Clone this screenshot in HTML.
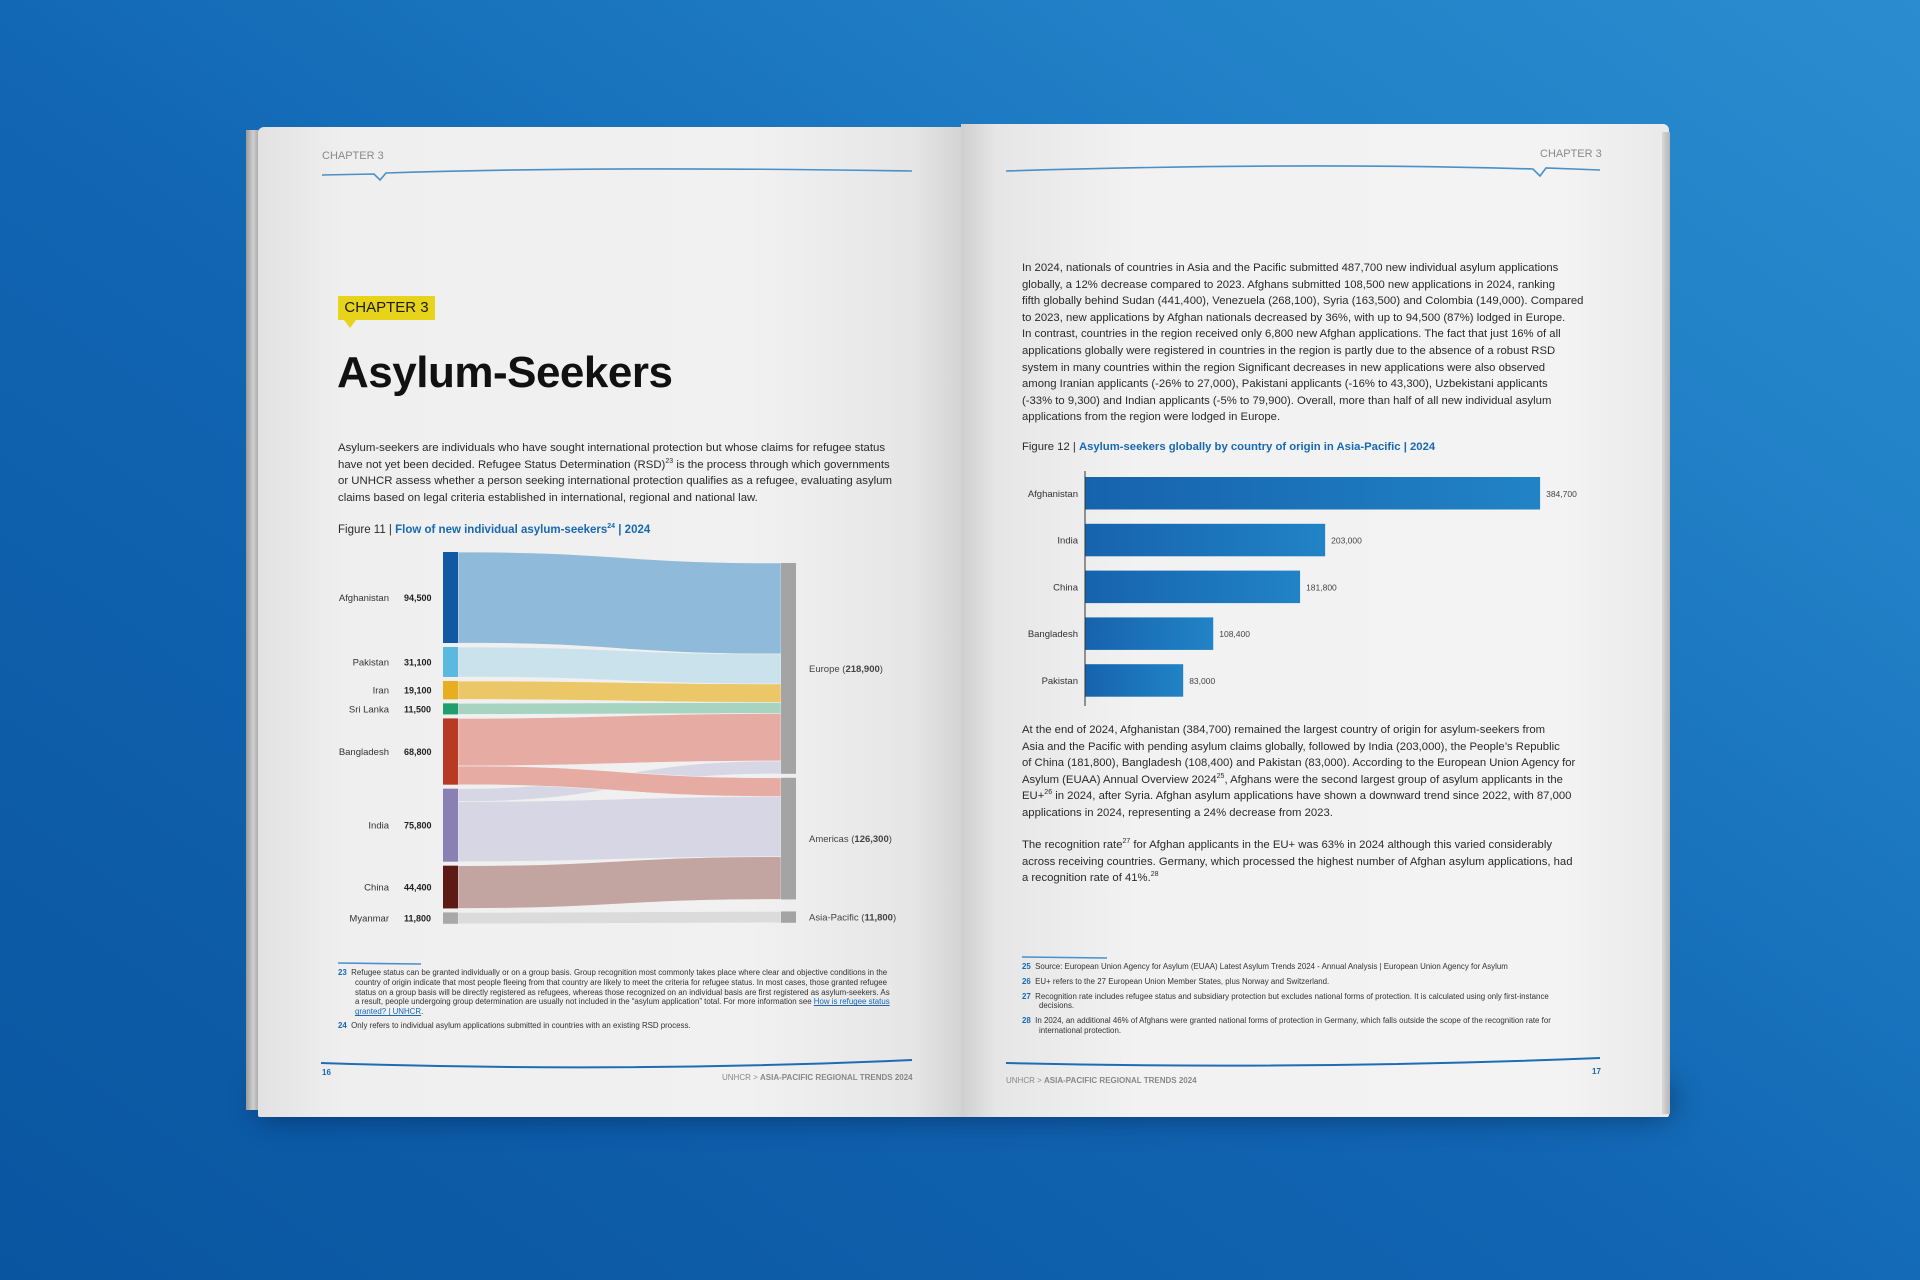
<!DOCTYPE html>
<html><head><meta charset="utf-8">
<style>
html,body{margin:0;padding:0;}
body{width:1920px;height:1280px;position:relative;overflow:hidden;font-family:"Liberation Sans",sans-serif;
background:linear-gradient(35deg,#0a55a0 0%,#1165b2 45%,#2282c8 80%,#2b8ccf 100%);}
.abs{position:absolute;white-space:nowrap;}
.p{color:#2a2a2a;}
.blue{color:#1769b3;}
</style></head>
<body>
<div class="abs" style="left:255px;top:1080px;width:1420px;height:40px;background:rgba(0,20,60,0.45);filter:blur(14px);border-radius:30px;"></div>
<div class="abs" style="left:246px;top:130px;width:18px;height:980px;background:linear-gradient(90deg,#9a9a9a,#cfcfcf 40%,#a9a9a9 70%,#d5d5d5);"></div>
<div class="abs" style="left:258px;top:127px;width:703px;height:990px;background:linear-gradient(90deg,#e2e2e2 0%,#efefef 12%,#f1f1f1 70%,#e6e6e6 93%,#d4d4d4 100%);border-radius:6px 0 0 2px;"></div>
<div class="abs" style="left:961px;top:124px;width:708px;height:993px;background:linear-gradient(90deg,#cfcfcf 0%,#e6e6e6 5%,#f2f2f2 25%,#f3f3f3 85%,#e9e9e9 100%);border-radius:0 6px 2px 0;"></div>
<div class="abs" style="left:1662px;top:132px;width:8px;height:982px;background:linear-gradient(90deg,#d8d8d8,#b5b5b5);"></div>

<svg class="abs" style="left:0;top:0" width="1920" height="1280">
 <g fill="none" stroke="#4a90c8" stroke-width="1.6">
  <path d="M322 175 L374 174 L380 180 L386 173 Q600 166 912 171"/>
  <path d="M1006 171 Q1300 162 1533 169 L1540 176 L1546 168 L1600 170"/>
  <path stroke="#1d6db5" stroke-width="2" d="M321 1063 Q620 1073 912 1060"/>
  <path stroke="#1d6db5" stroke-width="2" d="M1006 1063 Q1300 1070 1600 1058"/>
  <path d="M338 963 L421 964"/>
  <path d="M1022 957 L1107 958"/>
 </g>
</svg>

<div class="abs" style="left:322px;top:150px;font-size:11px;color:#8a8a8a;">CHAPTER 3</div>
<div class="abs" style="left:1540px;top:148px;font-size:11px;color:#8a8a8a;">CHAPTER 3</div>

<div class="abs" style="left:338px;top:296px;width:97px;height:24px;background:#e6d31a;font-size:15px;color:#1a1a1a;line-height:24px;text-align:center;">CHAPTER 3</div>
<div class="abs" style="left:344px;top:320px;width:0;height:0;border-left:6px solid transparent;border-right:6px solid transparent;border-top:8px solid #e6d31a;"></div>
<div class="abs" style="left:337px;top:348px;font-size:44px;font-weight:bold;color:#111;letter-spacing:-0.5px;">Asylum-Seekers</div>

<div class="abs p" style="left:338px;top:440px;font-size:11.4px;line-height:16.5px;">Asylum-seekers are individuals who have sought international protection but whose claims for refugee status<br>have not yet been decided. Refugee Status Determination (RSD)<sup style="font-size:7px;line-height:0">23</sup> is the process through which governments<br>or UNHCR assess whether a person seeking international protection qualifies as a refugee, evaluating asylum<br>claims based on legal criteria established in international, regional and national law.</div>

<div class="abs p" style="left:338px;top:524px;font-size:11.5px;">Figure 11 | <span class="blue" style="font-weight:bold">Flow of new individual asylum-seekers<sup style="font-size:7px;line-height:0">24</sup> | 2024</span></div>

<svg id="sankey" class="abs" style="left:0;top:0" width="1920" height="1280"></svg>

<div class="abs p" style="left:338px;top:968px;font-size:7.9px;line-height:9.8px;color:#333;">
<div><b class="blue">23</b>&nbsp; Refugee status can be granted individually or on a group basis. Group recognition most commonly takes place where clear and objective conditions in the</div>
<div style="padding-left:17px">country of origin indicate that most people fleeing from that country are likely to meet the criteria for refugee status. In most cases, those granted refugee<br>status on a group basis will be directly registered as refugees, whereas those recognized on an individual basis are first registered as asylum-seekers. As<br>a result, people undergoing group determination are usually not included in the “asylum application” total. For more information see <u class="blue">How is refugee status</u><br><u class="blue">granted? | UNHCR</u>.</div>
<div style="margin-top:4px"><b class="blue">24</b>&nbsp; Only refers to individual asylum applications submitted in countries with an existing RSD process.</div>
</div>

<div class="abs blue" style="left:322px;top:1068px;font-size:8px;font-weight:bold;">16</div>
<div class="abs" style="left:722px;top:1073px;font-size:8px;color:#888;">UNHCR &gt; <b>ASIA-PACIFIC REGIONAL TRENDS 2024</b></div>

<div class="abs p" style="left:1022px;top:260px;font-size:11.3px;line-height:16.6px;">In 2024, nationals of countries in Asia and the Pacific submitted 487,700 new individual asylum applications<br>globally, a 12% decrease compared to 2023. Afghans submitted 108,500 new applications in 2024, ranking<br>fifth globally behind Sudan (441,400), Venezuela (268,100), Syria (163,500) and Colombia (149,000). Compared<br>to 2023, new applications by Afghan nationals decreased by 36%, with up to 94,500 (87%) lodged in Europe.<br>In contrast, countries in the region received only 6,800 new Afghan applications. The fact that just 16% of all<br>applications globally were registered in countries in the region is partly due to the absence of a robust RSD<br>system in many countries within the region Significant decreases in new applications were also observed<br>among Iranian applicants (-26% to 27,000), Pakistani applicants (-16% to 43,300), Uzbekistani applicants<br>(-33% to 9,300) and Indian applicants (-5% to 79,900). Overall, more than half of all new individual asylum<br>applications from the region were lodged in Europe.</div>

<div class="abs p" style="left:1022px;top:441px;font-size:11.3px;">Figure 12 | <span class="blue" style="font-weight:bold">Asylum-seekers globally by country of origin in Asia-Pacific | 2024</span></div>

<svg id="bars" class="abs" style="left:0;top:0" width="1920" height="1280"></svg>

<div class="abs p" style="left:1022px;top:722px;font-size:11.3px;line-height:16.6px;">At the end of 2024, Afghanistan (384,700) remained the largest country of origin for asylum-seekers from<br>Asia and the Pacific with pending asylum claims globally, followed by India (203,000), the People’s Republic<br>of China (181,800), Bangladesh (108,400) and Pakistan (83,000). According to the European Union Agency for<br>Asylum (EUAA) Annual Overview 2024<sup style="font-size:7px;line-height:0">25</sup>, Afghans were the second largest group of asylum applicants in the<br>EU+<sup style="font-size:7px;line-height:0">26</sup> in 2024, after Syria. Afghan asylum applications have shown a downward trend since 2022, with 87,000<br>applications in 2024, representing a 24% decrease from 2023.</div>
<div class="abs p" style="left:1022px;top:837px;font-size:11.3px;line-height:16.6px;">The recognition rate<sup style="font-size:7px;line-height:0">27</sup> for Afghan applicants in the EU+ was 63% in 2024 although this varied considerably<br>across receiving countries. Germany, which processed the highest number of Afghan asylum applications, had<br>a recognition rate of 41%.<sup style="font-size:7px;line-height:0">28</sup></div>

<div class="abs p" style="left:1022px;top:962px;font-size:7.9px;line-height:9.8px;color:#333;">
<div><b class="blue">25</b>&nbsp; Source: European Union Agency for Asylum (EUAA) Latest Asylum Trends 2024 - Annual Analysis | European Union Agency for Asylum</div>
<div style="margin-top:5px"><b class="blue">26</b>&nbsp; EU+ refers to the 27 European Union Member States, plus Norway and Switzerland.</div>
<div style="margin-top:5px"><b class="blue">27</b>&nbsp; Recognition rate includes refugee status and subsidiary protection but excludes national forms of protection. It is calculated using only first-instance<br><span style="padding-left:17px">decisions.</span></div>
<div style="margin-top:5px"><b class="blue">28</b>&nbsp; In 2024, an additional 46% of Afghans were granted national forms of protection in Germany, which falls outside the scope of the recognition rate for<br><span style="padding-left:17px">international protection.</span></div>
</div>
<div class="abs" style="left:1006px;top:1076px;font-size:8px;color:#888;">UNHCR &gt; <b>ASIA-PACIFIC REGIONAL TRENDS 2024</b></div>
<div class="abs blue" style="left:1592px;top:1067px;font-size:8px;font-weight:bold;">17</div>

<script>
// ---- Sankey data ----
const sources = ["Afghanistan","Pakistan","Iran","Sri Lanka","Bangladesh","India","China","Myanmar"];
const sourceValues = [94500,31100,19100,11500,68800,75800,44400,11800];
const sourceLabels = ["94,500","31,100","19,100","11,500","68,800","75,800","44,400","11,800"];
const targets = ["Europe","Americas","Asia-Pacific"];
const targetLabels = ["218,900","126,300","11,800"];
const flowSource = [0,1,2,3,4,4,5,5,6,7];
const flowTarget = [0,0,0,0,0,1,0,1,1,2];
const flowValues = [94500,31100,19100,11500,49300,19500,13400,62400,44400,11800];

const NS="http://www.w3.org/2000/svg";
function mk(tag,attrs,parent){const e=document.createElementNS(NS,tag);for(const k in attrs)e.setAttribute(k,attrs[k]);parent.appendChild(e);return e;}
const nodeColors=["#1059a3","#5bb8df","#e8ae22","#1f9e6e","#b83a25","#8a80b4","#5e1a14","#a8a8a8"];
const flowColors=["#8ab8d8","#c8e2eb","#ecc560","#a3d3bf","#e6a9a0","#d6d5e4","#c0a09d","#dadada"];
(function(){
 const svg=document.getElementById('sankey');
 const k=0.000963, xL=443, nw=15, xR=781, top=552, gap=4;
 const sy=[];let y=top;
 sourceValues.forEach((v,i)=>{sy.push(y);y+=v*k+gap;});
 const tv=targets.map((t,j)=>flowValues.reduce((s,v,i)=>s+(flowTarget[i]===j?v:0),0));
 const tGaps=[0,4,12];const ty=[];y=563;
 tv.forEach((v,j)=>{y+=tGaps[j];ty.push(y);y+=v*k;});
 const sOff=sy.slice(), tOff=ty.slice();
 const paths=[];
 flowValues.forEach((v,i)=>{
  const s=flowSource[i],t=flowTarget[i],h=v*k;
  const y0=sOff[s],y1=tOff[t];sOff[s]+=h;tOff[t]+=h;
  const x0=xL+nw,x1=xR,mx=(x0+x1)/2;
  paths.push({i,d:`M${x0} ${y0} C${mx} ${y0} ${mx} ${y1} ${x1} ${y1} L${x1} ${y1+h} C${mx} ${y1+h} ${mx} ${y0+h} ${x0} ${y0+h} Z`,c:flowColors[s]});
 });
 const order=[6,7,0,1,2,3,4,5,8,9];
 order.forEach(i=>{const p=paths[i];
  const el=mk('path',{d:p.d,fill:p.c,opacity:0.95,stroke:'#f0f0f0','stroke-width':0.6},svg);
  
  
 });
 sourceValues.forEach((v,i)=>{
  const r=mk('rect',{x:xL,y:sy[i],width:nw,height:v*k,fill:nodeColors[i]},svg);
  
  
  const cy=sy[i]+v*k/2+3.5;
  const t1=mk('text',{x:389,y:cy,'text-anchor':'end','font-size':9.5,fill:'#333','font-family':'Liberation Sans'},svg);t1.textContent=sources[i];
  
  
  const t2=mk('text',{x:404,y:cy,'font-size':9,'font-weight':'bold',fill:'#222','font-family':'Liberation Sans'},svg);t2.textContent=sourceLabels[i];
  
  
 });
 tv.forEach((v,j)=>{
  const r=mk('rect',{x:xR,y:ty[j],width:15,height:v*k,fill:'#a4a4a4'},svg);
  
  
  const t=mk('text',{x:809,y:ty[j]+v*k/2+3.5,'font-size':9.5,fill:'#444','font-family':'Liberation Sans'},svg);
  
  
  t.innerHTML=targets[j]+' (<tspan font-weight="bold">'+targetLabels[j]+'</tspan>)';
 });
})();

// ---- Bar chart data ----
const barCategories = ["Afghanistan","India","China","Bangladesh","Pakistan"];
const barValues = [384700,203000,181800,108400,83000];
const barLabels = ["384,700","203,000","181,800","108,400","83,000"];
(function(){
 const svg=document.getElementById('bars');
 const x0=1085, xs=v=>x0+v*0.001183, top=477, step=46.8, bh=32.5;
 const defs=mk('defs',{},svg);
 const g=mk('linearGradient',{id:'bg1',x1:0,x2:1,y1:0,y2:0},defs);
 mk('stop',{offset:'0','stop-color':'#1663ad'},g);mk('stop',{offset:'1','stop-color':'#2183c6'},g);
 barValues.forEach((v,i)=>{
  const y=top+i*step;
  const r=mk('rect',{x:x0,y:y,width:xs(v)-x0,height:bh,fill:'url(#bg1)'},svg);
  
  
  const t=mk('text',{x:1078,y:y+bh/2+3.5,'text-anchor':'end','font-size':9.5,fill:'#333','font-family':'Liberation Sans'},svg);t.textContent=barCategories[i];
  
  
  const vl=mk('text',{x:xs(v)+6,y:y+bh/2+3.5,'font-size':8.5,fill:'#444','font-family':'Liberation Sans'},svg);vl.textContent=barLabels[i];
  
  
 });
 const ax=mk('line',{x1:x0,x2:x0,y1:471,y2:706,stroke:'#333','stroke-width':1},svg);
 
 
})();
</script>
</body></html>
